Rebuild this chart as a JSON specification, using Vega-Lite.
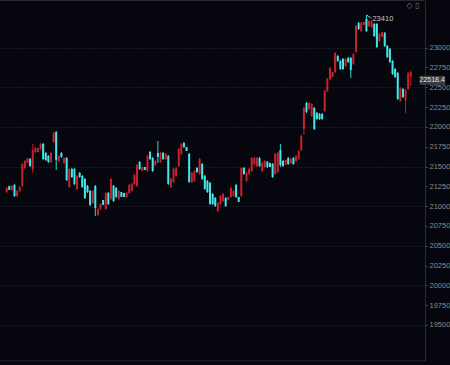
{
 "$schema": "https://vega.github.io/schema/vega-lite/v6.json",
 "width": 425, "height": 361, "padding": {"left": 0, "top": 0, "right": 25, "bottom": 4}, "autosize": {"type": "none"},
 "background": "#06060f",
 "config": {"view": {"stroke": null},
  "axisY": {"orient": "right", "title": null, "format": "d", "labelFont": "Liberation Sans", "labelFontSize": 7.5, "labelColor": "#8c8c8c", "labelPadding": 2, "labelOverlap": false, "tickSize": 2, "tickColor": "#555555", "domainColor": "#2c2c34", "grid": true, "gridColor": "#2a2b36", "gridDash": [1, 2]}},
 "datasets": {
  "k": [
   {"i":0,"o":21179,"h":21242,"l":21166,"c":21229},
   {"i":1,"o":21255,"h":21255,"l":21204,"c":21204},
   {"i":2,"o":21204,"h":21267,"l":21192,"c":21255},
   {"i":3,"o":21267,"h":21280,"l":21116,"c":21128},
   {"i":4,"o":21128,"h":21204,"l":21116,"c":21192},
   {"i":5,"o":21192,"h":21255,"l":21179,"c":21242},
   {"i":6,"o":21255,"h":21545,"l":21242,"c":21532},
   {"i":7,"o":21482,"h":21583,"l":21469,"c":21570},
   {"i":8,"o":21545,"h":21608,"l":21545,"c":21608},
   {"i":9,"o":21595,"h":21608,"l":21494,"c":21507},
   {"i":10,"o":21457,"h":21785,"l":21419,"c":21709},
   {"i":11,"o":21684,"h":21747,"l":21671,"c":21734},
   {"i":12,"o":21684,"h":21734,"l":21684,"c":21734},
   {"i":13,"o":21722,"h":21797,"l":21709,"c":21785},
   {"i":14,"o":21785,"h":21797,"l":21583,"c":21595},
   {"i":15,"o":21671,"h":21684,"l":21570,"c":21583},
   {"i":16,"o":21633,"h":21646,"l":21545,"c":21558},
   {"i":17,"o":21558,"h":21684,"l":21545,"c":21671},
   {"i":18,"o":21810,"h":21936,"l":21797,"c":21924},
   {"i":19,"o":21936,"h":21949,"l":21457,"c":21583},
   {"i":20,"o":21570,"h":21646,"l":21558,"c":21633},
   {"i":21,"o":21671,"h":21684,"l":21608,"c":21621},
   {"i":22,"o":21545,"h":21621,"l":21532,"c":21608},
   {"i":23,"o":21608,"h":21621,"l":21318,"c":21330},
   {"i":24,"o":21242,"h":21482,"l":21229,"c":21469},
   {"i":25,"o":21469,"h":21482,"l":21356,"c":21368},
   {"i":26,"o":21469,"h":21482,"l":21267,"c":21280},
   {"i":27,"o":21217,"h":21394,"l":21204,"c":21381},
   {"i":28,"o":21419,"h":21431,"l":21356,"c":21368},
   {"i":29,"o":21381,"h":21394,"l":21229,"c":21242},
   {"i":30,"o":21343,"h":21356,"l":21091,"c":21103},
   {"i":31,"o":21255,"h":21267,"l":21166,"c":21179},
   {"i":32,"o":21192,"h":21204,"l":21002,"c":21015},
   {"i":33,"o":21040,"h":21204,"l":21027,"c":21192},
   {"i":34,"o":21255,"h":21267,"l":20876,"c":20977},
   {"i":35,"o":20889,"h":20977,"l":20876,"c":20964},
   {"i":36,"o":20964,"h":21040,"l":20952,"c":21027},
   {"i":37,"o":21078,"h":21078,"l":21015,"c":21015},
   {"i":38,"o":20964,"h":21179,"l":20952,"c":21166},
   {"i":39,"o":21166,"h":21179,"l":21015,"c":21027},
   {"i":40,"o":21091,"h":21356,"l":21078,"c":21343},
   {"i":41,"o":21255,"h":21267,"l":21053,"c":21065},
   {"i":42,"o":21229,"h":21242,"l":21103,"c":21116},
   {"i":43,"o":21091,"h":21204,"l":21078,"c":21192},
   {"i":44,"o":21179,"h":21179,"l":21116,"c":21116},
   {"i":45,"o":21166,"h":21166,"l":21116,"c":21116},
   {"i":46,"o":21116,"h":21179,"l":21103,"c":21166},
   {"i":47,"o":21166,"h":21280,"l":21154,"c":21267},
   {"i":48,"o":21192,"h":21293,"l":21179,"c":21280},
   {"i":49,"o":21280,"h":21406,"l":21267,"c":21394},
   {"i":50,"o":21255,"h":21532,"l":21242,"c":21520},
   {"i":51,"o":21558,"h":21570,"l":21457,"c":21469},
   {"i":52,"o":21444,"h":21494,"l":21444,"c":21494},
   {"i":53,"o":21494,"h":21494,"l":21457,"c":21457},
   {"i":54,"o":21444,"h":21646,"l":21431,"c":21633},
   {"i":55,"o":21684,"h":21696,"l":21583,"c":21595},
   {"i":56,"o":21608,"h":21621,"l":21431,"c":21444},
   {"i":57,"o":21520,"h":21583,"l":21507,"c":21570},
   {"i":58,"o":21671,"h":21823,"l":21545,"c":21621},
   {"i":59,"o":21558,"h":21684,"l":21545,"c":21671},
   {"i":60,"o":21671,"h":21684,"l":21583,"c":21595},
   {"i":61,"o":21595,"h":21671,"l":21583,"c":21659},
   {"i":62,"o":21633,"h":21646,"l":21267,"c":21280},
   {"i":63,"o":21242,"h":21356,"l":21229,"c":21343},
   {"i":64,"o":21305,"h":21482,"l":21293,"c":21469},
   {"i":65,"o":21381,"h":21494,"l":21368,"c":21482},
   {"i":66,"o":21507,"h":21734,"l":21494,"c":21722},
   {"i":67,"o":21659,"h":21797,"l":21646,"c":21785},
   {"i":68,"o":21797,"h":21810,"l":21734,"c":21747},
   {"i":69,"o":21747,"h":21747,"l":21696,"c":21696},
   {"i":70,"o":21659,"h":21671,"l":21293,"c":21305},
   {"i":71,"o":21305,"h":21431,"l":21293,"c":21419},
   {"i":72,"o":21318,"h":21457,"l":21305,"c":21444},
   {"i":73,"o":21482,"h":21494,"l":21419,"c":21431},
   {"i":74,"o":21406,"h":21608,"l":21394,"c":21595},
   {"i":75,"o":21532,"h":21545,"l":21330,"c":21343},
   {"i":76,"o":21381,"h":21394,"l":21204,"c":21217},
   {"i":77,"o":21318,"h":21330,"l":21166,"c":21179},
   {"i":78,"o":21293,"h":21305,"l":21015,"c":21027},
   {"i":79,"o":21154,"h":21166,"l":21015,"c":21027},
   {"i":80,"o":21103,"h":21116,"l":20990,"c":21002},
   {"i":81,"o":20939,"h":21053,"l":20927,"c":21040},
   {"i":82,"o":21027,"h":21141,"l":21015,"c":21128},
   {"i":83,"o":21065,"h":21166,"l":21053,"c":21154},
   {"i":84,"o":21103,"h":21116,"l":20990,"c":21002},
   {"i":85,"o":21078,"h":21116,"l":21078,"c":21116},
   {"i":86,"o":21116,"h":21242,"l":21103,"c":21229},
   {"i":87,"o":21128,"h":21204,"l":21116,"c":21192},
   {"i":88,"o":21267,"h":21280,"l":21103,"c":21116},
   {"i":89,"o":21116,"h":21116,"l":21053,"c":21053},
   {"i":90,"o":21128,"h":21494,"l":21116,"c":21482},
   {"i":91,"o":21482,"h":21494,"l":21394,"c":21406},
   {"i":92,"o":21318,"h":21431,"l":21305,"c":21419},
   {"i":93,"o":21406,"h":21482,"l":21394,"c":21469},
   {"i":94,"o":21444,"h":21621,"l":21431,"c":21608},
   {"i":95,"o":21532,"h":21621,"l":21520,"c":21608},
   {"i":96,"o":21507,"h":21621,"l":21494,"c":21608},
   {"i":97,"o":21608,"h":21621,"l":21494,"c":21507},
   {"i":98,"o":21444,"h":21558,"l":21431,"c":21545},
   {"i":99,"o":21494,"h":21583,"l":21482,"c":21570},
   {"i":100,"o":21558,"h":21570,"l":21482,"c":21494},
   {"i":101,"o":21545,"h":21545,"l":21494,"c":21494},
   {"i":102,"o":21532,"h":21545,"l":21356,"c":21368},
   {"i":103,"o":21406,"h":21671,"l":21394,"c":21659},
   {"i":104,"o":21431,"h":21684,"l":21419,"c":21671},
   {"i":105,"o":21709,"h":21785,"l":21494,"c":21520},
   {"i":106,"o":21570,"h":21583,"l":21494,"c":21507},
   {"i":107,"o":21520,"h":21583,"l":21520,"c":21583},
   {"i":108,"o":21608,"h":21621,"l":21520,"c":21532},
   {"i":109,"o":21545,"h":21608,"l":21532,"c":21595},
   {"i":110,"o":21608,"h":21621,"l":21520,"c":21532},
   {"i":111,"o":21570,"h":21646,"l":21558,"c":21633},
   {"i":112,"o":21595,"h":21709,"l":21583,"c":21696},
   {"i":113,"o":21709,"h":21898,"l":21696,"c":21886},
   {"i":114,"o":21974,"h":22252,"l":21898,"c":22239},
   {"i":115,"o":22302,"h":22315,"l":22176,"c":22189},
   {"i":116,"o":22226,"h":22315,"l":22214,"c":22302},
   {"i":117,"o":22138,"h":22302,"l":22125,"c":22290},
   {"i":118,"o":22239,"h":22252,"l":21961,"c":21974},
   {"i":119,"o":22176,"h":22189,"l":22088,"c":22100},
   {"i":120,"o":22163,"h":22176,"l":22088,"c":22100},
   {"i":121,"o":22163,"h":22176,"l":22088,"c":22100},
   {"i":122,"o":22201,"h":22466,"l":22189,"c":22454},
   {"i":123,"o":22454,"h":22618,"l":22441,"c":22605},
   {"i":124,"o":22605,"h":22756,"l":22592,"c":22744},
   {"i":125,"o":22630,"h":22693,"l":22630,"c":22693},
   {"i":126,"o":22693,"h":22946,"l":22681,"c":22933},
   {"i":127,"o":22895,"h":22908,"l":22820,"c":22832},
   {"i":128,"o":22832,"h":22845,"l":22719,"c":22731},
   {"i":129,"o":22857,"h":22870,"l":22719,"c":22731},
   {"i":130,"o":22769,"h":22870,"l":22756,"c":22857},
   {"i":131,"o":22870,"h":22883,"l":22807,"c":22820},
   {"i":132,"o":22870,"h":22883,"l":22618,"c":22719},
   {"i":133,"o":22794,"h":22933,"l":22782,"c":22920},
   {"i":134,"o":22946,"h":23287,"l":22933,"c":23274},
   {"i":135,"o":23312,"h":23324,"l":23223,"c":23236},
   {"i":136,"o":23211,"h":23324,"l":23198,"c":23312},
   {"i":137,"o":23287,"h":23324,"l":23287,"c":23324},
   {"i":138,"o":23362,"h":23413,"l":23198,"c":23211},
   {"i":139,"o":23274,"h":23350,"l":23261,"c":23337},
   {"i":140,"o":23261,"h":23350,"l":23249,"c":23337},
   {"i":141,"o":23299,"h":23312,"l":23135,"c":23148},
   {"i":142,"o":23299,"h":23312,"l":22996,"c":23009},
   {"i":143,"o":23085,"h":23186,"l":23072,"c":23173},
   {"i":144,"o":23135,"h":23198,"l":23135,"c":23198},
   {"i":145,"o":23186,"h":23198,"l":23009,"c":23021},
   {"i":146,"o":23021,"h":23034,"l":22870,"c":22883},
   {"i":147,"o":22984,"h":22996,"l":22807,"c":22820},
   {"i":148,"o":22832,"h":22845,"l":22656,"c":22668},
   {"i":149,"o":22731,"h":22744,"l":22618,"c":22630},
   {"i":150,"o":22681,"h":22693,"l":22340,"c":22353},
   {"i":151,"o":22327,"h":22504,"l":22315,"c":22491},
   {"i":152,"o":22479,"h":22491,"l":22365,"c":22378},
   {"i":153,"o":22340,"h":22479,"l":22176,"c":22466},
   {"i":154,"o":22479,"h":22693,"l":22466,"c":22681},
   {"i":155,"o":22630,"h":22706,"l":22517,"c":22693}
  ]
 },
 "layer": [
  {
   "data": {"name": "k"},
   "mark": {"type": "rule", "strokeWidth": 1},
   "encoding": {
    "x": {"field": "i", "type": "quantitative", "scale": {"domain": [-0.64, 158.54], "nice": false, "zero": false}, "axis": null},
    "y": {"field": "l", "type": "quantitative", "scale": {"domain": [19045, 23602], "nice": false, "zero": false},
     "axis": {"values": [19500,19750,20000,20250,20500,20750,21000,21250,21500,21750,22000,22250,22500,22750,23000],
      "gridOpacity": {"condition": {"test": "datum.value % 500 === 0", "value": 1}, "value": 0}}},
    "y2": {"field": "h"},
    "color": {"condition": {"test": "datum.c >= datum.o", "value": "#b81f2a"}, "value": "#38d6d8"}
   }
  },
  {
   "data": {"name": "k"},
   "mark": {"type": "bar", "size": 2},
   "encoding": {
    "x": {"field": "i", "type": "quantitative", "axis": null},
    "y": {"field": "o", "type": "quantitative",
     "axis": {"values": [19500,19750,20000,20250,20500,20750,21000,21250,21500,21750,22000,22250,22500,22750,23000],
      "gridOpacity": {"condition": {"test": "datum.value % 500 === 0", "value": 1}, "value": 0}}},
    "y2": {"field": "c"},
    "color": {"condition": {"test": "datum.c >= datum.o", "value": "#c4222d"}, "value": "#45e6e6"}
   }
  },
  {
   "data": {"values": [{}]},
   "mark": {"type": "rule", "color": "#3a3a44", "strokeWidth": 1},
   "encoding": {"y": {"datum": 23600,
     "axis": {"values": [19500,19750,20000,20250,20500,20750,21000,21250,21500,21750,22000,22250,22500,22750,23000],
      "gridOpacity": {"condition": {"test": "datum.value % 500 === 0", "value": 1}, "value": 0}}}}
  },
  {
   "data": {"values": [{}]},
   "mark": {"type": "rule", "color": "#26262e", "strokeWidth": 1},
   "encoding": {"y": {"datum": 19047,
     "axis": {"values": [19500,19750,20000,20250,20500,20750,21000,21250,21500,21750,22000,22250,22500,22750,23000],
      "gridOpacity": {"condition": {"test": "datum.value % 500 === 0", "value": 1}, "value": 0}}}}
  },
  {
   "data": {"values": [{"i": 138, "h": 23413, "t": "23410"}]},
   "mark": {"type": "rule", "color": "#b0b0b0", "strokeWidth": 1},
   "encoding": {"x": {"field": "i", "type": "quantitative", "axis": null}, "x2": {"datum": 139.9}, "y": {"field": "h", "type": "quantitative",
     "axis": {"values": [19500,19750,20000,20250,20500,20750,21000,21250,21500,21750,22000,22250,22500,22750,23000],
      "gridOpacity": {"condition": {"test": "datum.value % 500 === 0", "value": 1}, "value": 0}}}, "y2": {"datum": 23372}}
  },
  {
   "data": {"values": [{"i": 138, "h": 23413, "t": "23410"}]},
   "mark": {"type": "text", "color": "#c8c8c8", "font": "Liberation Sans", "fontSize": 7.5, "align": "left", "dx": 6, "dy": 4},
   "encoding": {"x": {"field": "i", "type": "quantitative", "axis": null}, "y": {"field": "h", "type": "quantitative",
     "axis": {"values": [19500,19750,20000,20250,20500,20750,21000,21250,21500,21750,22000,22250,22500,22750,23000],
      "gridOpacity": {"condition": {"test": "datum.value % 500 === 0", "value": 1}, "value": 0}}}, "text": {"field": "t"}}
  },
  {
   "data": {"values": [{"p": 22518.4}]},
   "mark": {"type": "rect", "color": "#3b3b40", "yOffset": -10, "y2Offset": -1},
   "encoding": {"x": {"datum": 158.4, "axis": null}, "x2": {"datum": 168.2}, "y": {"field": "p", "type": "quantitative",
     "axis": {"values": [19500,19750,20000,20250,20500,20750,21000,21250,21500,21750,22000,22250,22500,22750,23000],
      "gridOpacity": {"condition": {"test": "datum.value % 500 === 0", "value": 1}, "value": 0}}}, "y2": {"field": "p"}}
  },
  {
   "data": {"values": [{"p": 22518.4}]},
   "mark": {"type": "text", "color": "#e6e6e6", "font": "Liberation Sans", "fontSize": 7, "align": "center", "dy": -5.5},
   "encoding": {"x": {"datum": 163.2, "axis": null}, "y": {"field": "p", "type": "quantitative",
     "axis": {"values": [19500,19750,20000,20250,20500,20750,21000,21250,21500,21750,22000,22250,22500,22750,23000],
      "gridOpacity": {"condition": {"test": "datum.value % 500 === 0", "value": 1}, "value": 0}}}, "text": {"field": "p", "type": "quantitative", "format": ".1f"}}
  },
  {
   "data": {"values": [{"t": "◇  ▯"}]},
   "mark": {"type": "text", "color": "#777777", "font": "DejaVu Sans", "fontSize": 8, "align": "left"},
   "encoding": {"x": {"datum": 153.4, "axis": null}, "y": {"datum": 23530,
     "axis": {"values": [19500,19750,20000,20250,20500,20750,21000,21250,21500,21750,22000,22250,22500,22750,23000],
      "gridOpacity": {"condition": {"test": "datum.value % 500 === 0", "value": 1}, "value": 0}}}, "text": {"field": "t"}}
  }
 ]
}
